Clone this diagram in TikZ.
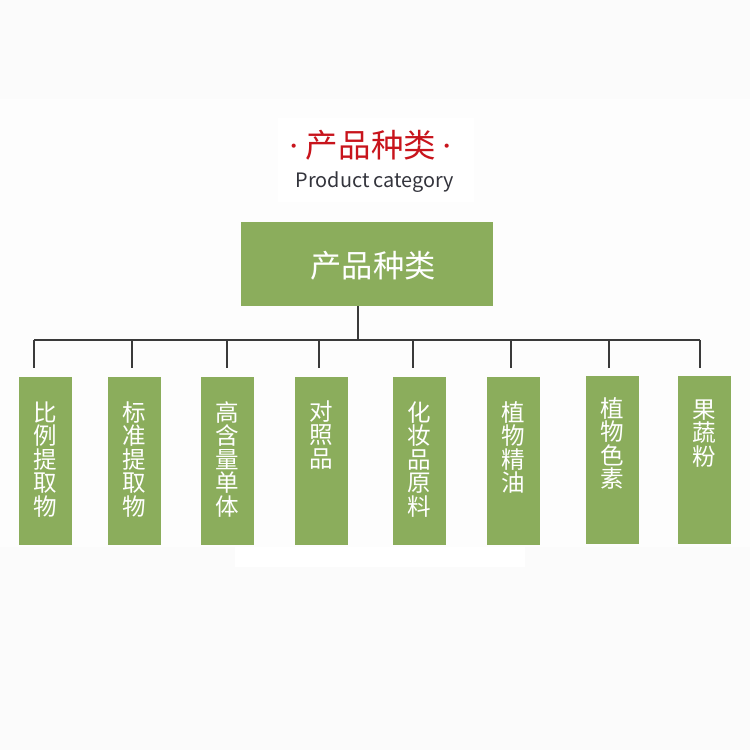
\documentclass[tikz,border=0pt]{standalone}
\usepackage{fontspec}
\setmainfont{Noto Sans CJK SC}
\definecolor{bggray}{HTML}{FBFBFB}
\definecolor{bandgray}{HTML}{FDFDFD}
\definecolor{leaf}{HTML}{8BAD5C}
\definecolor{titlered}{HTML}{C8141C}
\definecolor{subgray}{HTML}{33343C}
\definecolor{linegray}{HTML}{3A3A3A}
\tikzset{
  mainbox/.style={fill=leaf, draw=none, minimum width=5.04cm, minimum height=1.68cm, inner sep=0pt},
  maintext/.style={text=white, font=\fontsize{17.8}{18}\selectfont, inner sep=0pt},
  catbox/.style={fill=leaf, draw=none, minimum width=1.06cm, minimum height=3.36cm, inner sep=0pt},
  cattext/.style={text=white, font=\fontsize{13.4}{13.4}\selectfont, align=center, anchor=north, inner sep=0pt},
  link/.style={draw=linegray, line width=0.9pt},
}
\newcommand{\tdot}{\raisebox{2pt}{\fontsize{11}{11}\selectfont ·}}
\begin{document}
\begin{tikzpicture}[x=0.02cm, y=-0.02cm]
\useasboundingbox (0,0) rectangle (750,750);
\fill[bggray] (0,0) rectangle (750,750);
\fill[bandgray] (0,99) rectangle (750,547);
\fill[white] (278,118) rectangle (474,202);
\fill[white] (235,547) rectangle (525,567);

% title
\node[text=titlered, font=\fontsize{18.5}{19}\selectfont, inner sep=0pt] (title) at (371,145) {\tdot\hspace{1pt}产品种类\hspace{1pt}\tdot};
\node[text=subgray, font=\fontsize{11.3}{12}\selectfont, inner sep=0pt] (subtitle) at (375,182) {Product category};

% main box
\node[mainbox] (main) at (367,264) {};
\node[maintext] (maintitle) at (373,266) {产品种类};

% categories
\node[catbox] (c1) at (45.5,461) {};
\node[catbox] (c2) at (134.5,461) {};
\node[catbox] (c3) at (227.5,461) {};
\node[catbox] (c4) at (321.5,461) {};
\node[catbox] (c5) at (419,461) {};
\node[catbox] (c6) at (513.5,461) {};
\node[catbox] (c7) at (612.5,460) {};
\node[catbox] (c8) at (704.5,460) {};

\node[cattext] (t1) at (45.5,401) {比\\例\\提\\取\\物};
\node[cattext] (t2) at (134.5,401) {标\\准\\提\\取\\物};
\node[cattext] (t3) at (227.5,401) {高\\含\\量\\单\\体};
\node[cattext] (t4) at (321.5,400) {对\\照\\品};
\node[cattext] (t5) at (419,401) {化\\妆\\品\\原\\料};
\node[cattext] (t6) at (513.5,401) {植\\物\\精\\油};
\node[cattext] (t7) at (612.5,397) {植\\物\\色\\素};
\node[cattext] (t8) at (704.5,399) {果\\蔬\\粉};

% connectors
\coordinate (hub) at (358,340);
\coordinate (hl) at (34,340);
\coordinate (hr) at (700,340);
\draw[link] (hub |- main.south) -- (hub);
\draw[link] (hl) -- (hr);
\foreach \x/\n in {34/1,132/2,227/3,319/4,413/5,511/6,609/7,700/8}{
  \coordinate (d\n) at (\x,368);
  \draw[link] (\x,340) -- (d\n);
}
\end{tikzpicture}
\end{document}
